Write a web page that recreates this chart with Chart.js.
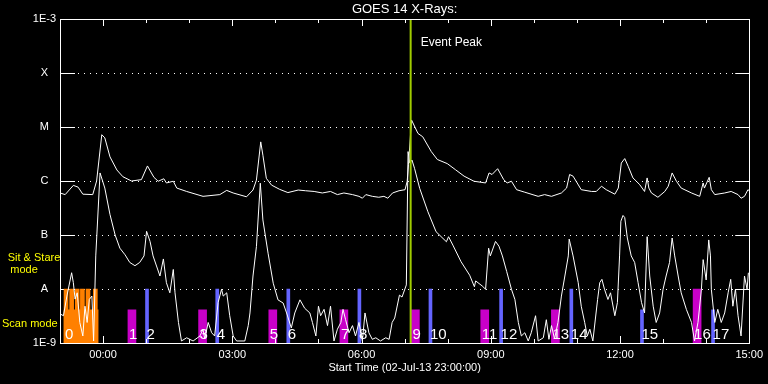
<!DOCTYPE html>
<html>
<head>
<meta charset="utf-8">
<script src="https://cdn.jsdelivr.net/npm/chart.js@4.4.1/dist/chart.umd.min.js"></script>
<style>
  html, body { margin: 0; padding: 0; background: #000; }
  #wrap { width: 768px; height: 384px; }
</style>
</head>
<body>
<div id="wrap"><canvas id="goes" width="768" height="384"></canvas></div>
<script>
// hours since 02-Jul-13 23:00
const xTickHours = [1, 4, 7, 10, 13, 16];
const xTickLabels = ["00:00", "03:00", "06:00", "09:00", "12:00", "15:00"];
const yTickValues = [1e-9, 1e-8, 1e-7, 1e-6, 1e-5, 1e-4, 1e-3];
const yTickLabels = ["1E-9", "A", "B", "C", "M", "X", "1E-3"];

const eventPeakTime = 8.14;

// long channel (upper curve)
const longTimes = [0.00, 0.12, 0.31, 0.42, 0.53, 0.76, 0.85, 0.97, 1.04, 1.16, 1.32, 1.46, 1.66, 1.89, 2.03, 2.18, 2.28, 2.41, 2.47, 2.63,
  2.71, 2.94, 3.32, 3.71, 3.87, 4.02, 4.33, 4.48, 4.56, 4.66, 4.71, 4.79, 4.91, 5.10, 5.29, 5.53, 5.70, 5.90, 6.09, 6.28,
  6.44, 6.59, 6.79, 6.94, 7.02, 7.10, 7.25, 7.40, 7.52, 7.61, 7.72, 7.87, 8.01, 8.06, 8.09, 8.16, 8.31, 8.42, 8.62, 8.76,
  8.99, 9.18, 9.38, 9.61, 9.88, 9.96, 10.03, 10.16, 10.30, 10.38, 10.48, 10.60, 10.79, 11.10, 11.25, 11.41, 11.64, 11.76, 11.83, 11.91,
  12.10, 12.34, 12.45, 12.57, 12.68, 12.88, 12.96, 13.03, 13.11, 13.19, 13.30, 13.38, 13.46, 13.57, 13.63, 13.67, 13.73, 13.88, 14.04, 14.12,
  14.21, 14.31, 14.42, 14.66, 14.85, 14.93, 14.96, 15.07, 15.12, 15.20, 15.43, 15.58, 15.74, 15.81, 15.89, 15.97, 16.00];
const longFlux = [6.0e-7, 5.6e-7, 8.3e-7, 7.7e-7, 5.7e-7, 5.6e-7, 1.0e-6, 7.2e-6, 6.3e-6, 2.8e-6, 1.6e-6, 1.2e-6, 1.0e-6, 1.06e-6, 1.9e-6, 1.17e-6, 9.9e-7, 1.1e-6, 9.2e-7, 9.9e-7,
  7.4e-7, 6.4e-7, 5.2e-7, 5.6e-7, 6.7e-7, 6.0e-7, 5.1e-7, 6.8e-7, 1.04e-6, 5.3e-6, 3.0e-6, 1.12e-6, 8.4e-7, 7.0e-7, 6.1e-7, 6.8e-7, 6.6e-7, 6.4e-7, 6.0e-7, 6.4e-7,
  5.6e-7, 6.0e-7, 5.6e-7, 5.2e-7, 4.8e-7, 5.6e-7, 5.2e-7, 5.0e-7, 5.2e-7, 4.8e-7, 6.0e-7, 6.6e-7, 6.9e-7, 9.9e-7, 2.0e-6, 1.35e-5, 7.6e-6, 6.6e-6, 3.5e-6, 2.5e-6,
  2.1e-6, 1.62e-6, 1.23e-6, 9.9e-7, 9.2e-7, 1.41e-6, 1.32e-6, 1.69e-6, 1.06e-6, 9.2e-7, 9.9e-7, 6.9e-7, 6.2e-7, 5.2e-7, 5.6e-7, 5.2e-7, 6.0e-7, 7.4e-7, 1.32e-6, 1.23e-6,
  6.9e-7, 6.4e-7, 6.4e-7, 8.0e-7, 6.9e-7, 5.7e-7, 7.4e-7, 2.15e-6, 2.6e-6, 1.87e-6, 1.14e-6, 9.9e-7, 8.5e-7, 6.4e-7, 1.14e-6, 7.4e-7, 6.0e-7, 5.0e-7, 6.4e-7, 8.0e-7,
  1.41e-6, 9.9e-7, 7.4e-7, 6.0e-7, 5.2e-7, 9.2e-7, 7.4e-7, 1.17e-6, 6.9e-7, 5.6e-7, 6.0e-7, 6.4e-7, 5.6e-7, 4.8e-7, 5.2e-7, 6.9e-7, 6.6e-7];

// short channel (lower curve)
const shortTimes = [0.02, 0.08, 0.16, 0.27, 0.31, 0.35, 0.40, 0.46, 0.53, 0.58, 0.63, 0.68, 0.74, 0.78, 0.83, 0.93, 0.95, 1.04, 1.16, 1.28,
  1.39, 1.51, 1.62, 1.74, 1.85, 1.95, 2.01, 2.09, 2.16, 2.32, 2.40, 2.47, 2.55, 2.63, 2.67, 2.75, 2.82, 2.94, 3.09, 3.25,
  3.32, 3.36, 3.44, 3.52, 3.59, 3.67, 3.75, 3.79, 3.87, 3.94, 4.02, 4.10, 4.29, 4.37, 4.41, 4.48, 4.56, 4.65, 4.71, 4.83,
  4.95, 5.06, 5.18, 5.26, 5.37, 5.45, 5.57, 5.68, 5.80, 5.86, 5.94, 6.00, 6.05, 6.13, 6.21, 6.28, 6.36, 6.44, 6.52, 6.57,
  6.63, 6.71, 6.79, 6.86, 6.94, 7.02, 7.08, 7.17, 7.25, 7.33, 7.44, 7.56, 7.64, 7.71, 7.77, 7.88, 7.94, 8.04, 8.08, 8.12,
  8.17, 8.23, 8.35, 8.54, 8.73, 8.97, 9.02, 9.12, 9.31, 9.51, 9.62, 9.65, 9.80, 9.88, 9.95, 9.99, 10.11, 10.19, 10.27, 10.37,
  10.48, 10.56, 10.64, 10.71, 10.79, 10.87, 10.94, 11.04, 11.10, 11.22, 11.29, 11.35, 11.41, 11.48, 11.56, 11.64, 11.72, 11.80, 11.82, 11.91,
  12.03, 12.10, 12.18, 12.24, 12.30, 12.37, 12.48, 12.53, 12.58, 12.64, 12.72, 12.78, 12.88, 12.94, 12.99, 13.02, 13.07, 13.11, 13.17, 13.26,
  13.34, 13.42, 13.50, 13.57, 13.63, 13.69, 13.77, 13.84, 13.92, 14.00, 14.07, 14.15, 14.21, 14.27, 14.35, 14.42, 14.54, 14.66, 14.73, 14.81,
  14.89, 14.93, 15.00, 15.06, 15.10, 15.12, 15.20, 15.27, 15.35, 15.43, 15.51, 15.57, 15.62, 15.68, 15.74, 15.81, 15.89, 15.95, 15.98];
const shortFlux = [3.4e-9, 3.2e-9, 7.4e-9, 2.0e-8, 1.31e-8, 6.5e-9, 8.5e-9, 2.4e-9, 1.35e-9, 4.8e-9, 2.4e-9, 6.4e-9, 7.4e-9, 1.09e-9, 4.1e-8, 1.41e-6, 1.41e-6, 7.4e-7, 2.4e-7, 1.0e-7,
  5.7e-8, 4.3e-8, 3.1e-8, 2.7e-8, 3.1e-8, 4.1e-8, 1.17e-7, 7.6e-8, 4.1e-8, 1.74e-8, 3.6e-8, 1.31e-8, 8.5e-9, 2.3e-8, 8.5e-9, 2.4e-9, 1.09e-9, 1.25e-9, 1.09e-9, 1.35e-9,
  1.8e-9, 1.19e-9, 2.4e-9, 1.55e-9, 1.35e-9, 5.6e-9, 9.9e-9, 7.4e-9, 8.5e-9, 3.2e-9, 1.35e-9, 1.09e-9, 1.09e-9, 2.1e-9, 3.6e-9, 1.74e-8, 6.1e-8, 9.1e-7, 1.9e-7, 4.6e-8,
  1.28e-8, 6.3e-9, 5.5e-9, 3.6e-9, 1.9e-9, 3.6e-9, 6.3e-9, 4.4e-9, 3.6e-9, 2.4e-9, 1.35e-9, 4.8e-9, 3.2e-9, 4.2e-9, 2.1e-9, 4.8e-9, 1.09e-9, 1.8e-9, 2.4e-9, 4.2e-9,
  2.7e-9, 1.55e-9, 2.1e-9, 1.35e-9, 2.4e-9, 1.09e-9, 3.6e-9, 1.55e-9, 1.17e-9, 1.25e-9, 1.09e-9, 1.25e-9, 1.17e-9, 2.4e-9, 2.9e-9, 7.7e-9, 7.1e-9, 1.19e-8, 3.5e-6, 2.15e-6,
  2.45e-6, 1.72e-6, 7.3e-7, 2.7e-7, 1.15e-7, 7.5e-8, 9.3e-8, 6.5e-8, 3.2e-8, 1.8e-8, 1.1e-8, 1.41e-8, 1.14e-8, 9.9e-9, 5.7e-8, 4.1e-8, 7.6e-8, 6.2e-8, 4.1e-8, 2.1e-8,
  9.9e-9, 6.4e-9, 2.4e-9, 1.35e-9, 1.55e-9, 1.09e-9, 1.55e-9, 3.2e-9, 1.09e-9, 1.25e-9, 2.7e-9, 1.17e-9, 2.1e-9, 1.19e-9, 2.4e-9, 7.4e-9, 1.74e-8, 4.1e-8, 8.4e-8, 4.1e-8,
  1.31e-8, 4.8e-9, 2.4e-9, 1.35e-9, 1.8e-9, 1.09e-9, 6.4e-9, 1.31e-8, 1.51e-8, 9.9e-9, 6.4e-9, 8.5e-9, 3.2e-9, 5.6e-9, 4.1e-8, 1.8e-7, 2.3e-7, 2.1e-7, 8.8e-8, 4.1e-8,
  3.1e-8, 1.31e-8, 5.6e-9, 3.6e-9, 9.3e-8, 1.74e-8, 4.8e-9, 2.4e-9, 3.6e-9, 9.9e-9, 1.74e-8, 3.1e-8, 8.8e-8, 4.1e-8, 1.74e-8, 8.5e-9, 4.2e-9, 2.4e-9, 1.09e-9, 2.4e-9,
  9.9e-9, 3.5e-8, 1.47e-8, 8.1e-8, 4.1e-8, 9.9e-9, 2.4e-9, 4.2e-9, 2.4e-9, 3.6e-9, 8.5e-9, 1.51e-8, 4.8e-9, 9.9e-9, 3.2e-9, 1.35e-9, 1.74e-8, 9.9e-9, 2.0e-8];

// observing modes: sit & stare (orange), scan steps (magenta / blue)
const stareSegTimes = [0.14, 0.27, 0.40, 0.52, 0.65, 0.82];
const stareBaseTime = [0.49];
const magentaTimes = [1.67, 3.31, 4.94, 6.59, 8.25, 9.86, 11.50, 14.79];
const magentaTops = [4.1e-9, 4.1e-9, 4.1e-9, 4.1e-9, 4.1e-9, 4.1e-9, 4.1e-9, 1e-8];
const blueTimes = [2.02, 3.65, 5.30, 6.95, 8.60, 10.24, 11.87, 13.51, 15.16];
const blueTops = [1e-8, 1e-8, 1e-8, 1e-8, 1e-8, 1e-8, 1e-8, 4.1e-9, 4.1e-9];
const fluxFloor = 1e-9;
const stareTop = 1e-8;
const scanTop = 4.1e-9;

const pts = (ts, vs) => ts.map((t, i) => ({ x: t, y: vs[i] }));
const bars = (ts, tops) => ts.map((t, i) => ({ x: t, y: [fluxFloor, tops[i]] }));

const goesDecor = {
  id: "goesDecor",
  beforeDatasetsDraw(chart) {
    const { ctx, chartArea: a, scales: { y } } = chart;
    ctx.save();
    ctx.strokeStyle = "#fff";
    ctx.lineWidth = 1;
    yTickValues.slice(1, -1).forEach(v => {
      const py = Math.round(y.getPixelForValue(v)) + 0.5;
      ctx.setLineDash([]);
      ctx.beginPath();
      ctx.moveTo(a.left, py); ctx.lineTo(a.left + 15, py);
      ctx.moveTo(a.right - 14, py); ctx.lineTo(a.right, py);
      ctx.stroke();
      ctx.setLineDash([1, 5]);
      ctx.beginPath();
      ctx.moveTo(a.left + 18, py); ctx.lineTo(a.right - 16, py);
      ctx.stroke();
    });
    ctx.restore();
  },
  afterDatasetsDraw(chart) {
    const { ctx, chartArea: a, scales: { x, y } } = chart;
    ctx.save();
    ctx.strokeStyle = "#fff";
    ctx.lineWidth = 1;
    ctx.strokeRect(Math.round(a.left) + 0.5, Math.round(a.top) + 0.5, Math.round(a.width), Math.round(a.height));
    // hour ticks, longer every 3 hours
    ctx.beginPath();
    for (let h = 0; h <= 16; h++) {
      const px = Math.round(x.getPixelForValue(h)) + 0.5;
      const len = xTickHours.includes(h) ? 7 : 4;
      ctx.moveTo(px, a.top); ctx.lineTo(px, a.top + len);
      ctx.moveTo(px, a.bottom); ctx.lineTo(px, a.bottom - len);
    }
    ctx.stroke();

    // step numbers on the mode bars
    const lefts = [];
    chart.data.datasets.forEach((ds, i) => {
      if (!ds.numbered) return;
      chart.getDatasetMeta(i).data.forEach(el => lefts.push(el.x - el.width / 2));
    });
    lefts.sort((p, q) => p - q);
    ctx.fillStyle = "#fff";
    ctx.font = "15px 'Liberation Sans'";
    ctx.textAlign = "left";
    ctx.textBaseline = "alphabetic";
    lefts.forEach((px, n) => ctx.fillText(String(n), px + 1, a.bottom - 4));

    ctx.font = "12px 'Liberation Sans'";
    ctx.textBaseline = "middle";
    ctx.fillText("Event Peak", x.getPixelForValue(eventPeakTime) + 10, a.top + 24);

    ctx.fillStyle = "#ffff00";
    ctx.font = "11px 'Liberation Sans'";
    const pA = y.getPixelForValue(1e-8);
    ctx.textAlign = "center";
    ctx.fillText("Sit & Stare", 34, pA - 31);
    ctx.fillText("mode", 24, pA - 19);
    ctx.textAlign = "left";
    ctx.fillText("Scan mode", 2, y.getPixelForValue(fluxFloor) - 19);
    ctx.restore();
  }
};

Chart.defaults.font.family = "'Liberation Sans', sans-serif";

new Chart(document.getElementById("goes"), {
  type: "line",
  data: {
    datasets: [
      { type: "bar", data: bars(stareSegTimes, stareSegTimes.map(() => stareTop)), backgroundColor: "#ff8000", barThickness: 4, grouped: false, order: 3 },
      { type: "bar", data: bars(stareBaseTime, [scanTop]), backgroundColor: "#ff8000", barThickness: 34, grouped: false, order: 3, numbered: true },
      { type: "bar", data: bars(magentaTimes, magentaTops), backgroundColor: "#c800c8", barThickness: 8, grouped: false, order: 3, numbered: true },
      { type: "bar", data: bars(blueTimes, blueTops), backgroundColor: "#6464ff", barThickness: 3, grouped: false, order: 3, numbered: true },
      { data: pts(longTimes, longFlux), borderColor: "#fff", borderWidth: 1, pointRadius: 0, tension: 0, order: 1 },
      { data: pts(shortTimes, shortFlux), borderColor: "#fff", borderWidth: 1, pointRadius: 0, tension: 0, order: 1 },
      { data: [{ x: eventPeakTime, y: yTickValues[0] }, { x: eventPeakTime, y: yTickValues[yTickValues.length - 1] }],
        borderColor: "#a0cc00", borderWidth: 2, pointRadius: 0, order: 0 }
    ]
  },
  options: {
    responsive: false,
    animation: false,
    layout: { padding: { left: 0, right: 18, top: 0, bottom: 0 } },
    plugins: {
      legend: { display: false },
      tooltip: { enabled: false },
      title: {
        display: true, text: "GOES 14 X-Rays:", color: "#fff", fullSize: false,
        font: { size: 13, weight: "normal" }, padding: { top: 2, bottom: 1.4 }
      }
    },
    scales: {
      x: {
        type: "linear", min: 0, max: 16, offset: false,
        grid: { display: false, drawTicks: false }, border: { display: false },
        afterBuildTicks: s => { s.ticks = xTickHours.map(v => ({ value: v })); },
        afterFit: s => { s.height = 41; },
        ticks: {
          color: "#fff", font: { size: 11 }, padding: 5, maxRotation: 0, autoSkip: false,
          callback: v => xTickLabels[xTickHours.indexOf(v)]
        },
        title: {
          display: true, text: "Start Time (02-Jul-13 23:00:00)", color: "#fff",
          font: { size: 11 }, padding: { top: 0, bottom: 9 }
        }
      },
      y: {
        type: "logarithmic", min: 1e-9, max: 1e-3,
        grid: { display: false, drawTicks: false }, border: { display: false },
        afterBuildTicks: s => { s.ticks = yTickValues.map(v => ({ value: v })); },
        afterFit: s => { s.width = 60; },
        ticks: {
          color: "#fff", font: { size: 11 }, padding: 4, crossAlign: "center", autoSkip: false,
          callback: v => yTickLabels[yTickValues.findIndex(t => Math.abs(Math.log10(t) - Math.log10(v)) < 1e-6)]
        }
      }
    }
  },
  plugins: [goesDecor]
});
</script>
</body>
</html>
